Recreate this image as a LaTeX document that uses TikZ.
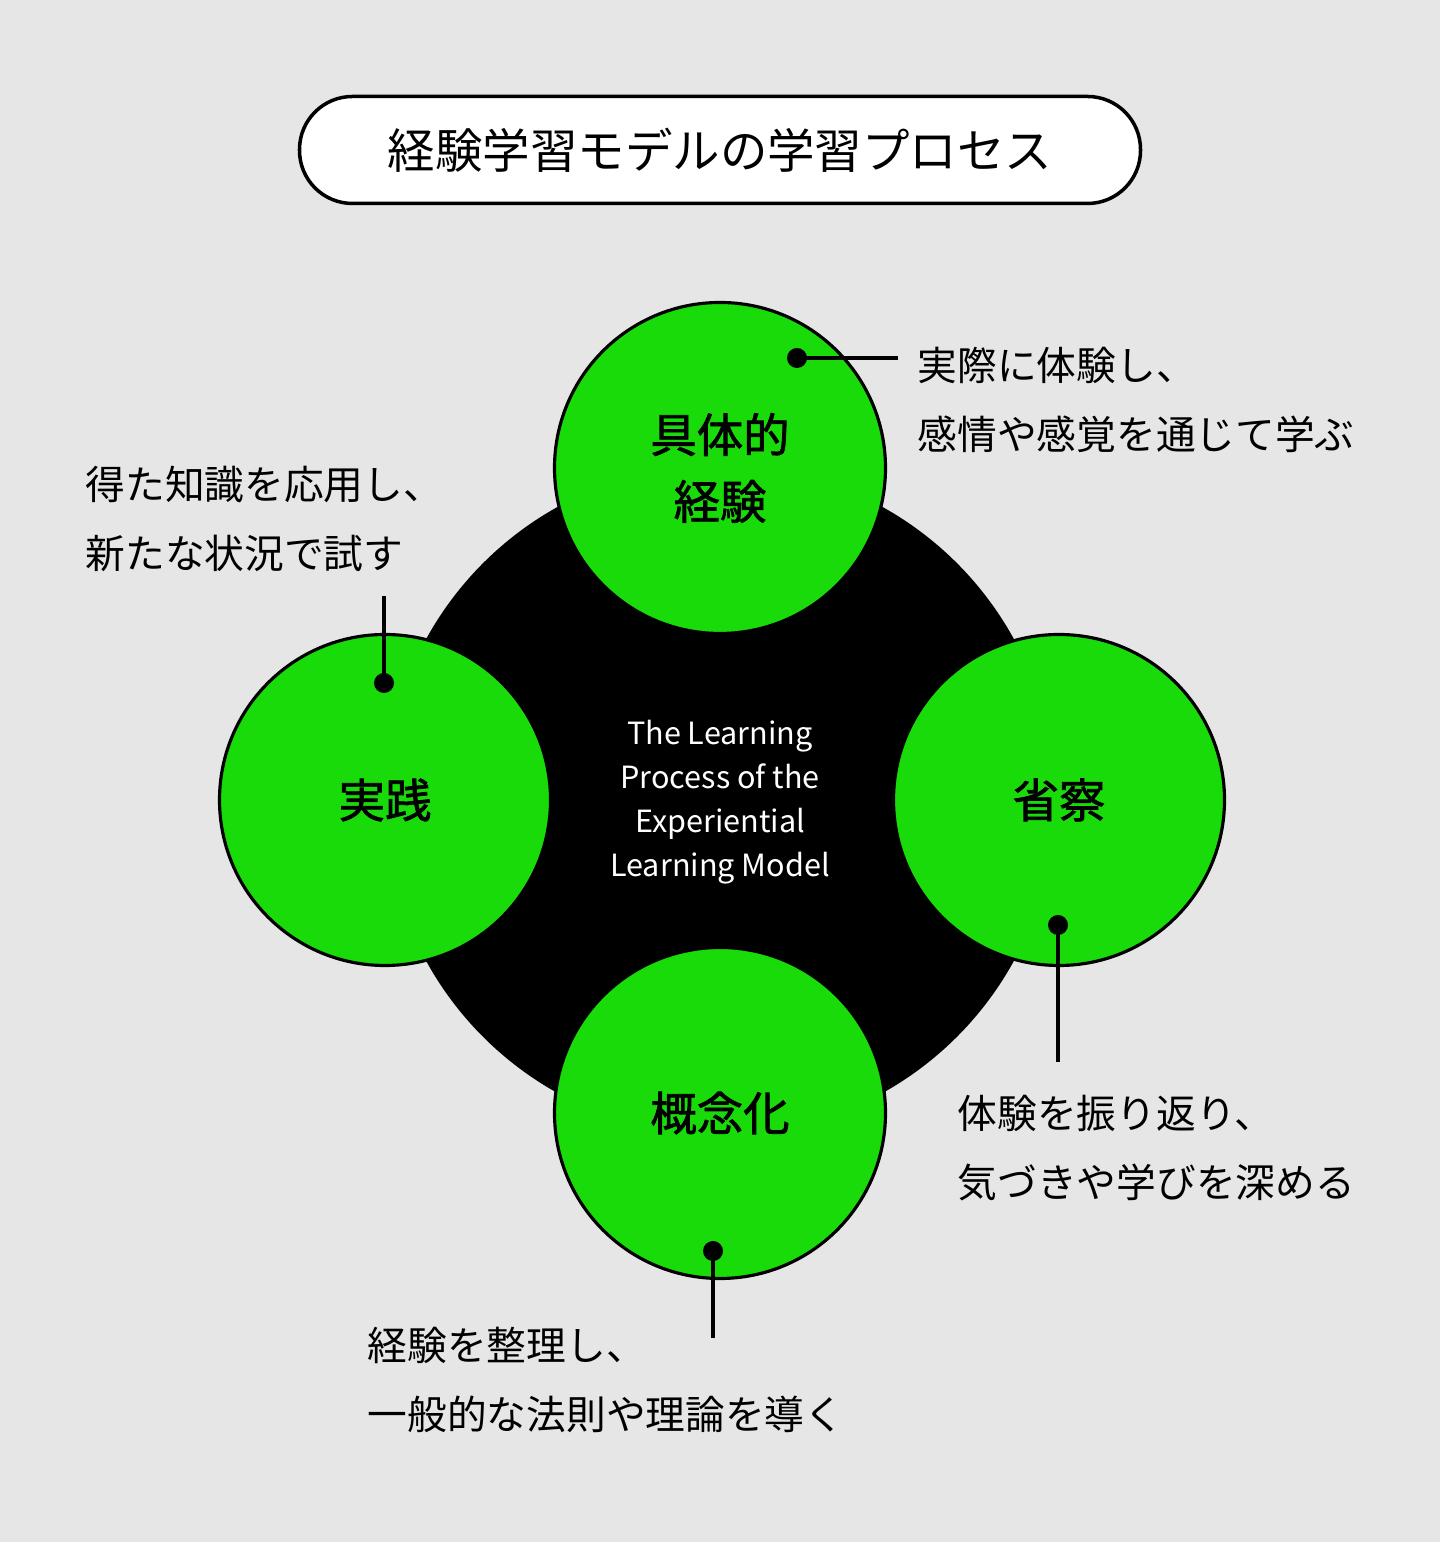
\documentclass[tikz,border=0pt]{standalone}
\usepackage{fontspec}
\setmainfont{Noto Sans CJK JP}
\newfontfamily\stagefont[FakeBold=1.6]{Noto Sans CJK JP}
\usepackage{tikz}
\definecolor{paper}{HTML}{E6E6E6}
\definecolor{leaf}{HTML}{1ADB0A}

\begin{document}
\begin{tikzpicture}[
        stage/.style={circle, draw=black, line width=0.9pt, fill=leaf, minimum size=3.31cm, inner sep=0pt, align=center, font=\fontsize{13.2}{19}\stagefont},
        note/.style={anchor=west, align=left, inner sep=0pt, font=\fontsize{11.3}{19.8}\selectfont},
        pin/.style={circle, fill=black, minimum size=0.2cm, inner sep=0pt},
        lead/.style={line width=0.9pt}
    ]
        % Coordinates
        \coordinate (SW) at (0.00, 0.00);
        \coordinate (NE) at (14.40, 15.42);
        \coordinate (O) at (7.20, 7.42);
        \coordinate (TE) at (8.98, 11.84);
        \coordinate (LE) at (3.84, 9.46);
        \coordinate (RE) at (10.58, 4.80);
        \coordinate (BE) at (7.13, 2.04);

        % Drawing
        \fill[paper] (SW) rectangle (NE);
        \useasboundingbox (SW) rectangle (NE);
        \node[draw, line width=1pt, fill=white, rounded corners=0.53cm, minimum width=8.41cm, minimum height=1.07cm, font=\fontsize{13.5}{16}\selectfont] (title) at (7.20, 13.92) {経験学習モデルの学習プロセス};
        \fill[black] (O) circle (3.35);
        \node[white, align=center, inner sep=0pt, font=\fontsize{8.7}{12.5}\selectfont] (core) at (7.20, 7.40) {The Learning\\Process of the\\Experiential\\Learning Model};
        \node[stage] (concrete) at (7.20, 10.74) {具体的\\経験};
        \node[stage] (practice) at (3.85, 7.42) {実践};
        \node[stage] (reflect) at (10.59, 7.42) {省察};
        \node[stage] (concept) at (7.20, 4.29) {概念化};
        \node[pin] (TP) at (7.97, 11.84) {};
        \node[pin] (LP) at (3.84, 8.59) {};
        \node[pin] (RP) at (10.58, 6.17) {};
        \node[pin] (BP) at (7.13, 2.91) {};
        \draw[lead] (TP.center) -- (TE);
        \draw[lead] (LP.center) -- (LE);
        \draw[lead] (RP.center) -- (RE);
        \draw[lead] (BP.center) -- (BE);
        \node[note] (tnote) at (9.17, 11.42) {実際に体験し、\\感情や感覚を通じて学ぶ};
        \node[note] (lnote) at (0.85, 10.23) {得た知識を応用し、\\新たな状況で試す};
        \node[note] (rnote) at (9.57, 3.94) {体験を振り返り、\\気づきや学びを深める};
        \node[note] (bnote) at (3.67, 1.62) {経験を整理し、\\一般的な法則や理論を導く};
    \end{tikzpicture}
\end{document}
